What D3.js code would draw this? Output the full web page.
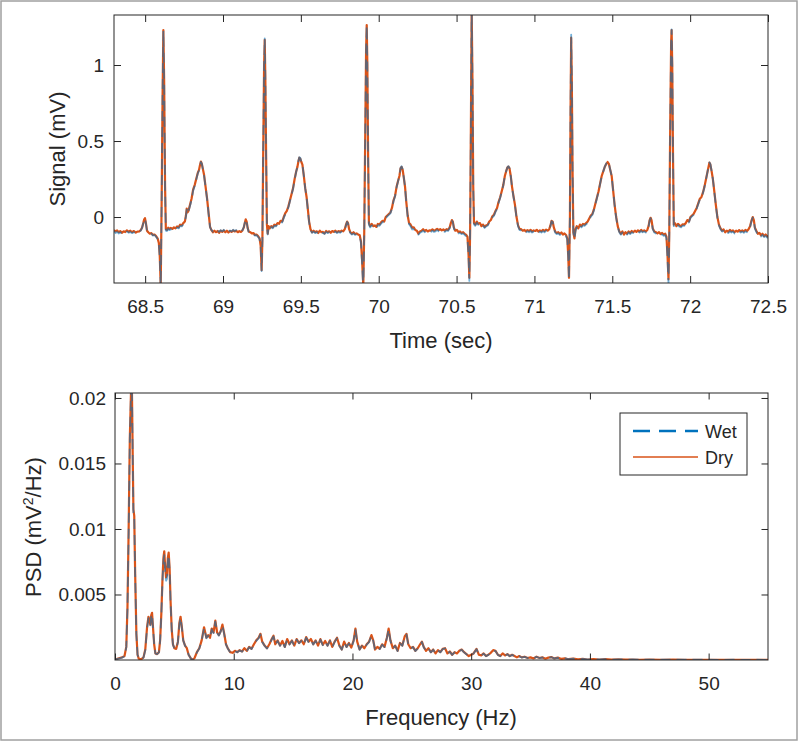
<!DOCTYPE html>
<html><head><meta charset="utf-8">
<script src="https://cdn.jsdelivr.net/npm/d3@7"></script>
<style>
html,body{margin:0;padding:0;background:#fff;}
svg{display:block;font-family:"Liberation Sans",Arial,Helvetica,sans-serif;}
</style></head><body>
<svg id="chart" width="800" height="743"></svg>
<script>
// ---------------- DATA ----------------
const seriesNames = ["Wet", "Dry"];
const timeTicks = [68.5, 69, 69.5, 70, 70.5, 71, 71.5, 72, 72.5];
const signalTicks = [0, 0.5, 1];
const freqTicks = [0, 10, 20, 30, 40, 50];
const psdTicks = [0.005, 0.01, 0.015, 0.02];

const ecgTime = [
 68.300,68.310,68.320,68.330,68.340,68.352,68.362,68.372,68.383,68.395,68.405,68.416,68.428,68.440,68.450,68.462,68.472,68.480,68.488,68.494,68.499,68.505,68.512,68.520,68.530,68.540,68.550,68.560,68.570,68.580,68.588,68.594,68.600,68.606,68.612,68.617,68.622,68.628,68.633,68.640,
 68.648,68.655,68.665,68.675,68.685,68.695,68.705,68.715,68.725,68.735,68.745,68.755,68.762,68.767,68.772,68.778,68.788,68.798,68.808,68.818,68.828,68.838,68.846,68.852,68.858,68.864,68.870,68.878,68.888,68.898,68.908,68.917,68.925,68.935,68.945,68.955,68.965,68.975,68.985,68.995,
 69.005,69.015,69.025,69.035,69.045,69.055,69.065,69.075,69.085,69.095,69.105,69.115,69.125,69.133,69.140,69.146,69.152,69.158,69.165,69.175,69.185,69.195,69.205,69.215,69.225,69.235,69.242,69.248,69.253,69.258,69.264,69.268,69.272,69.277,69.282,69.287,
 69.293,69.300,69.310,69.320,69.330,69.340,69.350,69.360,69.370,69.380,69.390,69.400,69.410,69.420,69.430,69.440,69.450,69.460,69.470,69.478,69.485,69.490,69.496,69.502,69.510,69.518,69.528,69.537,69.545,69.553,69.562,69.572,69.582,69.592,69.602,69.612,69.622,69.632,69.642,69.652,69.662,69.672,69.682,69.692,69.702,69.712,69.722,69.732,69.742,69.752,69.762,69.772,69.782,69.790,69.797,69.803,69.810,69.818,69.828,69.838,69.848,69.858,69.868,69.878,69.886,69.893,69.901,69.907,69.913,69.919,69.923,69.927,69.932,69.937,
 69.945,69.955,69.965,69.975,69.985,69.995,70.005,70.015,70.025,70.035,70.045,70.055,70.065,70.075,70.085,70.095,70.105,70.115,70.125,70.133,70.140,70.147,70.154,70.161,70.169,70.177,70.186,70.195,70.205,70.215,70.225,70.235,70.245,70.255,70.265,70.275,70.285,70.295,70.305,70.315,70.325,70.335,70.345,70.355,70.365,70.375,70.385,70.395,70.405,70.415,70.425,70.435,70.445,70.455,70.463,70.470,70.476,70.483,70.492,70.502,70.512,70.522,70.532,70.542,70.552,70.562,70.570,70.577,70.582,70.587,70.592,70.597,70.602,70.607,
 70.612,70.620,70.630,70.640,70.650,70.660,70.670,70.680,70.690,70.700,70.710,70.720,70.730,70.740,70.750,70.760,70.770,70.780,70.790,70.800,70.810,70.818,70.826,70.833,70.840,70.848,70.856,70.865,70.875,70.885,70.895,70.905,70.915,70.925,70.935,70.945,70.955,70.965,70.975,70.985,70.995,71.005,71.015,71.025,71.035,71.045,71.055,71.065,71.075,71.085,71.095,71.103,71.110,71.117,71.125,71.133,71.143,71.153,71.163,71.173,71.183,71.193,71.203,71.211,71.217,71.222,71.228,71.232,71.236,71.240,71.245,71.250,71.257,
 71.264,71.272,71.282,71.292,71.302,71.312,71.322,71.332,71.342,71.352,71.362,71.372,71.382,71.392,71.402,71.412,71.422,71.432,71.442,71.452,71.462,71.470,71.478,71.487,71.496,71.505,71.515,71.525,71.535,71.545,71.555,71.565,71.575,71.585,71.595,71.605,71.615,71.625,71.635,71.645,71.655,71.665,71.675,71.685,71.695,71.705,71.715,71.725,71.733,71.740,71.746,71.752,71.760,71.770,71.780,71.790,71.800,71.810,71.820,71.830,71.840,71.848,71.855,71.861,71.866,71.872,71.878,71.881,71.885,71.890,71.895,
 71.902,71.912,71.922,71.932,71.942,71.952,71.962,71.972,71.982,71.992,72.002,72.012,72.022,72.032,72.042,72.052,72.062,72.072,72.082,72.092,72.102,72.112,72.118,72.124,72.130,72.138,72.146,72.155,72.165,72.175,72.185,72.195,72.205,72.215,72.225,72.235,72.245,72.255,72.265,72.275,72.285,72.295,72.305,72.315,72.325,72.335,72.345,72.355,72.365,72.375,72.385,72.395,72.402,72.409,72.416,72.425,72.435,72.445,72.455,72.465,72.475,72.485,72.495,72.500
];

const ecgDry = [
 -0.086,-0.095,-0.088,-0.100,-0.093,-0.104,-0.094,-0.099,-0.088,-0.097,-0.090,-0.100,-0.092,-0.102,-0.096,-0.095,-0.085,-0.070,-0.040,-0.015,-0.008,-0.040,-0.090,-0.100,-0.110,-0.106,-0.118,-0.115,-0.125,-0.140,-0.170,-0.260,-0.450,0.100,0.800,1.230,0.900,0.200,-0.080,-0.085,
 -0.070,-0.078,-0.072,-0.078,-0.068,-0.075,-0.062,-0.068,-0.050,-0.055,-0.040,-0.030,0.010,0.055,0.030,0.040,0.080,0.120,0.180,0.210,0.250,0.290,0.310,0.340,0.365,0.350,0.320,0.280,0.200,0.120,0.020,-0.065,-0.085,-0.100,-0.090,-0.100,-0.092,-0.104,-0.090,-0.098,
 -0.088,-0.100,-0.090,-0.102,-0.092,-0.098,-0.088,-0.095,-0.090,-0.100,-0.093,-0.098,-0.088,-0.070,-0.040,-0.015,-0.030,-0.070,-0.095,-0.100,-0.108,-0.105,-0.118,-0.115,-0.125,-0.140,-0.190,-0.350,-0.150,0.400,1.000,1.165,0.900,0.400,-0.050,-0.110,
 -0.060,-0.075,-0.060,-0.068,-0.050,-0.055,-0.040,-0.045,-0.025,-0.030,0.000,0.025,0.040,0.070,0.110,0.150,0.190,0.250,0.300,0.330,0.370,0.390,0.385,0.365,0.345,0.280,0.190,0.130,0.050,-0.030,-0.080,-0.100,-0.090,-0.100,-0.094,-0.105,-0.090,-0.100,-0.098,-0.108,-0.092,-0.100,-0.094,-0.104,-0.092,-0.098,-0.090,-0.100,-0.092,-0.098,-0.090,-0.094,-0.080,-0.050,-0.030,-0.040,-0.080,-0.100,-0.110,-0.100,-0.112,-0.108,-0.115,-0.120,-0.160,-0.280,-0.450,-0.100,0.500,1.100,1.263,1.000,0.400,-0.040,
 -0.060,-0.045,-0.060,-0.055,-0.065,-0.045,-0.050,-0.035,-0.025,-0.030,0.000,0.010,0.020,0.030,0.060,0.110,0.140,0.200,0.240,0.270,0.320,0.330,0.310,0.260,0.200,0.100,0.010,-0.040,-0.050,-0.070,-0.068,-0.085,-0.090,-0.110,-0.095,-0.090,-0.080,-0.092,-0.085,-0.095,-0.088,-0.090,-0.082,-0.090,-0.085,-0.078,-0.086,-0.080,-0.088,-0.082,-0.090,-0.080,-0.085,-0.070,-0.040,-0.020,-0.030,-0.070,-0.090,-0.085,-0.100,-0.095,-0.105,-0.100,-0.110,-0.118,-0.130,-0.250,-0.400,-0.100,0.600,1.360,0.900,0.200,
 -0.040,-0.050,-0.030,-0.045,-0.040,-0.060,-0.050,-0.065,-0.055,-0.050,-0.030,-0.020,0.005,0.015,0.040,0.060,0.100,0.130,0.170,0.210,0.270,0.300,0.325,0.332,0.320,0.270,0.200,0.140,0.080,0.000,-0.055,-0.080,-0.080,-0.090,-0.085,-0.094,-0.086,-0.092,-0.084,-0.095,-0.088,-0.092,-0.084,-0.096,-0.088,-0.094,-0.085,-0.092,-0.083,-0.090,-0.080,-0.055,-0.025,-0.030,-0.070,-0.095,-0.105,-0.100,-0.110,-0.102,-0.115,-0.108,-0.118,-0.140,-0.250,-0.400,0.000,0.700,1.180,0.900,0.300,-0.100,-0.140,
 -0.080,-0.060,-0.075,-0.050,-0.060,-0.045,-0.050,-0.040,-0.030,-0.010,0.010,0.020,0.050,0.090,0.130,0.170,0.220,0.270,0.300,0.330,0.350,0.362,0.350,0.310,0.270,0.180,0.080,0.000,-0.060,-0.095,-0.110,-0.095,-0.115,-0.100,-0.110,-0.095,-0.105,-0.092,-0.100,-0.090,-0.098,-0.088,-0.096,-0.085,-0.094,-0.088,-0.095,-0.085,-0.060,-0.020,-0.005,-0.020,-0.075,-0.095,-0.100,-0.108,-0.100,-0.112,-0.105,-0.115,-0.110,-0.130,-0.260,-0.410,-0.100,0.600,1.150,1.230,1.000,0.400,-0.050,
 -0.040,-0.060,-0.045,-0.055,-0.060,-0.048,-0.050,-0.040,-0.020,-0.030,0.000,0.010,0.020,0.040,0.060,0.090,0.120,0.130,0.160,0.200,0.250,0.300,0.330,0.358,0.345,0.300,0.250,0.170,0.080,0.000,-0.050,-0.075,-0.090,-0.082,-0.100,-0.090,-0.098,-0.085,-0.094,-0.088,-0.100,-0.090,-0.096,-0.086,-0.095,-0.088,-0.096,-0.085,-0.092,-0.080,-0.060,-0.020,0.000,-0.020,-0.070,-0.090,-0.110,-0.105,-0.120,-0.110,-0.125,-0.115,-0.128,-0.120
];

const ecgWet = [
 -0.095,-0.105,-0.098,-0.108,-0.100,-0.112,-0.104,-0.106,-0.096,-0.104,-0.098,-0.106,-0.100,-0.108,-0.102,-0.100,-0.090,-0.072,-0.042,-0.018,-0.010,-0.042,-0.092,-0.104,-0.114,-0.110,-0.122,-0.118,-0.130,-0.145,-0.175,-0.265,-0.460,0.090,0.790,1.225,0.890,0.190,-0.090,-0.092,
 -0.078,-0.086,-0.080,-0.085,-0.076,-0.082,-0.070,-0.075,-0.058,-0.062,-0.048,-0.036,0.004,0.048,0.024,0.034,0.072,0.112,0.172,0.204,0.244,0.286,0.306,0.338,0.362,0.352,0.318,0.276,0.196,0.116,0.016,-0.068,-0.084,-0.096,-0.086,-0.094,-0.088,-0.098,-0.086,-0.094,
 -0.084,-0.096,-0.086,-0.098,-0.088,-0.094,-0.084,-0.092,-0.086,-0.096,-0.090,-0.095,-0.086,-0.068,-0.038,-0.014,-0.030,-0.072,-0.098,-0.104,-0.112,-0.110,-0.122,-0.120,-0.130,-0.146,-0.196,-0.355,-0.160,0.390,1.000,1.175,0.910,0.390,-0.060,-0.115,
 -0.066,-0.080,-0.066,-0.074,-0.058,-0.062,-0.048,-0.052,-0.032,-0.036,-0.006,0.018,0.034,0.064,0.104,0.146,0.186,0.246,0.298,0.330,0.372,0.394,0.390,0.368,0.346,0.280,0.188,0.126,0.046,-0.034,-0.086,-0.104,-0.096,-0.106,-0.100,-0.110,-0.096,-0.106,-0.104,-0.112,-0.098,-0.106,-0.100,-0.108,-0.098,-0.104,-0.096,-0.106,-0.098,-0.104,-0.096,-0.100,-0.086,-0.054,-0.032,-0.044,-0.086,-0.106,-0.116,-0.108,-0.118,-0.114,-0.122,-0.128,-0.170,-0.300,-0.480,-0.120,0.480,1.090,1.260,0.990,0.390,-0.050,
 -0.068,-0.055,-0.068,-0.064,-0.072,-0.054,-0.058,-0.044,-0.032,-0.038,-0.008,0.004,0.014,0.024,0.054,0.104,0.136,0.196,0.238,0.270,0.322,0.334,0.314,0.262,0.198,0.096,0.004,-0.048,-0.062,-0.082,-0.080,-0.096,-0.100,-0.116,-0.104,-0.098,-0.090,-0.100,-0.094,-0.102,-0.096,-0.098,-0.090,-0.098,-0.094,-0.086,-0.094,-0.088,-0.096,-0.090,-0.098,-0.088,-0.092,-0.076,-0.044,-0.024,-0.034,-0.076,-0.098,-0.094,-0.108,-0.104,-0.112,-0.108,-0.118,-0.126,-0.140,-0.260,-0.420,-0.110,0.590,1.380,0.890,0.190,
 -0.048,-0.058,-0.038,-0.052,-0.048,-0.066,-0.058,-0.072,-0.062,-0.056,-0.036,-0.026,-0.002,0.008,0.034,0.054,0.094,0.126,0.166,0.208,0.268,0.300,0.326,0.335,0.322,0.270,0.198,0.136,0.076,-0.006,-0.062,-0.086,-0.088,-0.098,-0.092,-0.102,-0.094,-0.100,-0.092,-0.102,-0.096,-0.100,-0.092,-0.104,-0.096,-0.102,-0.093,-0.100,-0.091,-0.096,-0.086,-0.060,-0.028,-0.034,-0.076,-0.102,-0.112,-0.108,-0.118,-0.110,-0.122,-0.116,-0.126,-0.148,-0.260,-0.410,0.010,0.720,1.200,0.910,0.300,-0.105,-0.145,
 -0.090,-0.070,-0.084,-0.060,-0.068,-0.054,-0.058,-0.048,-0.038,-0.018,0.002,0.014,0.044,0.084,0.126,0.168,0.218,0.268,0.300,0.332,0.354,0.366,0.352,0.312,0.270,0.178,0.076,-0.006,-0.066,-0.100,-0.116,-0.102,-0.120,-0.108,-0.116,-0.102,-0.112,-0.100,-0.106,-0.098,-0.104,-0.096,-0.102,-0.092,-0.100,-0.095,-0.102,-0.092,-0.066,-0.024,-0.008,-0.024,-0.080,-0.102,-0.108,-0.116,-0.110,-0.120,-0.114,-0.124,-0.120,-0.140,-0.280,-0.440,-0.120,0.580,1.140,1.235,1.000,0.390,-0.060,
 -0.050,-0.068,-0.054,-0.064,-0.068,-0.056,-0.058,-0.048,-0.028,-0.036,-0.006,0.004,0.014,0.034,0.054,0.084,0.114,0.126,0.156,0.198,0.248,0.300,0.332,0.360,0.348,0.302,0.250,0.168,0.076,-0.006,-0.056,-0.080,-0.096,-0.090,-0.108,-0.098,-0.106,-0.094,-0.102,-0.096,-0.108,-0.098,-0.104,-0.094,-0.102,-0.096,-0.104,-0.094,-0.100,-0.088,-0.066,-0.024,-0.004,-0.026,-0.076,-0.098,-0.118,-0.112,-0.128,-0.118,-0.132,-0.124,-0.136,-0.130
];

const psdFreq = [
 0.00,0.20,0.40,0.60,0.80,0.95,1.05,1.15,1.25,1.35,
 1.42,1.50,1.55,1.62,1.70,1.80,1.90,2.00,2.20,2.40,
 2.55,2.70,2.82,2.90,2.98,3.05,3.12,3.20,3.30,3.40,
 3.55,3.70,3.80,3.90,4.00,4.08,4.15,4.22,4.30,4.38,
 4.45,4.52,4.60,4.68,4.78,4.88,5.00,5.15,5.30,5.42,
 5.52,5.62,5.75,5.90,6.05,6.20,6.40,6.55,6.70,6.90,
 7.10,7.30,7.50,7.60,7.70,7.85,8.00,8.15,8.30,8.45,
 8.60,8.75,8.90,9.05,9.20,9.35,9.50,9.70,9.90,10.10,
 10.30,10.50,10.70,10.90,11.10,11.30,11.50,11.70,11.90,12.10,
 12.25,12.40,12.60,12.80,13.00,13.20,13.35,13.50,13.70,13.90,
 14.10,14.30,14.50,14.70,14.90,15.10,15.30,15.50,15.70,15.90,
 16.10,16.30,16.50,16.70,16.90,17.10,17.30,17.50,17.70,17.90,
 18.10,18.30,18.50,18.70,18.90,19.10,19.30,19.50,19.70,19.90,
 20.10,20.25,20.40,20.60,20.80,21.00,21.20,21.40,21.60,21.75,
 21.90,22.10,22.30,22.50,22.70,22.90,23.05,23.20,23.40,23.60,
 23.80,24.00,24.20,24.40,24.55,24.70,24.90,25.10,25.30,25.50,
 25.70,25.85,26.00,26.20,26.40,26.60,26.80,27.00,27.20,27.40,
 27.60,27.80,28.00,28.20,28.40,28.60,28.80,29.00,29.20,29.40,
 29.60,29.80,30.00,30.20,30.45,30.65,30.85,31.05,31.25,31.45,
 31.65,31.85,32.05,32.25,32.45,32.65,32.85,33.05,33.25,33.45,
 33.65,33.85,34.05,34.25,34.50,34.75,35.00,35.25,35.50,35.75,
 36.00,36.25,36.50,36.75,37.00,37.30,37.60,37.90,38.20,38.60,
 39.00,39.40,39.80,40.30,40.80,41.30,41.80,42.40,43.00,43.60,
 44.20,45.00,46.00,47.00,48.00,49.00,50.00,51.00,52.00,53.00,
 54.00,55.00
];

const psdDry = [
 0.00002,0.00010,0.00015,0.00020,0.00030,0.00100,0.00400,0.01000,0.01700,0.02050,
 0.02100,0.01500,0.01150,0.01100,0.00650,0.00200,0.00040,0.00010,0.00005,0.00020,
 0.00080,0.00250,0.00330,0.00300,0.00270,0.00340,0.00360,0.00250,0.00120,0.00050,
 0.00045,0.00060,0.00150,0.00350,0.00620,0.00780,0.00830,0.00720,0.00630,0.00650,
 0.00780,0.00820,0.00700,0.00450,0.00230,0.00120,0.00090,0.00085,0.00140,0.00280,
 0.00330,0.00260,0.00150,0.00110,0.00090,0.00040,0.00010,0.00002,0.00015,0.00060,
 0.00090,0.00150,0.00250,0.00210,0.00170,0.00190,0.00170,0.00240,0.00210,0.00300,
 0.00210,0.00190,0.00220,0.00270,0.00200,0.00120,0.00090,0.00060,0.00055,0.00070,
 0.00060,0.00075,0.00065,0.00090,0.00070,0.00100,0.00085,0.00120,0.00150,0.00170,
 0.00200,0.00140,0.00110,0.00090,0.00120,0.00160,0.00185,0.00120,0.00150,0.00110,
 0.00145,0.00100,0.00160,0.00120,0.00150,0.00110,0.00160,0.00130,0.00150,0.00120,
 0.00175,0.00140,0.00160,0.00120,0.00150,0.00110,0.00160,0.00115,0.00145,0.00110,
 0.00150,0.00100,0.00140,0.00170,0.00110,0.00080,0.00140,0.00100,0.00130,0.00095,
 0.00150,0.00240,0.00140,0.00080,0.00110,0.00090,0.00120,0.00140,0.00190,0.00150,
 0.00080,0.00100,0.00085,0.00120,0.00100,0.00170,0.00240,0.00150,0.00090,0.00110,
 0.00070,0.00130,0.00110,0.00180,0.00200,0.00120,0.00090,0.00100,0.00070,0.00090,
 0.00120,0.00140,0.00100,0.00070,0.00090,0.00060,0.00080,0.00050,0.00075,0.00060,
 0.00085,0.00090,0.00050,0.00065,0.00040,0.00060,0.00050,0.00070,0.00080,0.00060,
 0.00045,0.00030,0.00040,0.00050,0.00085,0.00040,0.00035,0.00050,0.00030,0.00040,
 0.00055,0.00075,0.00070,0.00040,0.00030,0.00050,0.00035,0.00045,0.00030,0.00040,
 0.00030,0.00020,0.00030,0.00020,0.00025,0.00015,0.00020,0.00012,0.00025,0.00015,
 0.00020,0.00010,0.00018,0.00022,0.00012,0.00018,0.00008,0.00012,0.00006,0.00010,
 0.00005,0.00008,0.00004,0.00007,0.00004,0.00006,0.00003,0.00005,0.00003,0.00004,
 0.00002,0.00003,0.00002,0.00003,0.00002,0.00002,0.00002,0.00001,0.00002,0.00001,
 0.00002,0.00001
];

const psdWet = [
 0.00002,0.00008,0.00013,0.00018,0.00028,0.00095,0.00390,0.00980,0.01690,0.02040,
 0.02100,0.01480,0.01120,0.01080,0.00640,0.00195,0.00040,0.00010,0.00005,0.00018,
 0.00075,0.00240,0.00320,0.00295,0.00265,0.00330,0.00350,0.00245,0.00118,0.00050,
 0.00045,0.00058,0.00145,0.00340,0.00600,0.00760,0.00800,0.00690,0.00605,0.00620,
 0.00750,0.00800,0.00690,0.00440,0.00225,0.00118,0.00088,0.00083,0.00136,0.00272,
 0.00322,0.00255,0.00148,0.00108,0.00088,0.00040,0.00010,0.00002,0.00014,0.00058,
 0.00088,0.00146,0.00244,0.00206,0.00166,0.00186,0.00166,0.00234,0.00206,0.00292,
 0.00206,0.00186,0.00216,0.00264,0.00196,0.00118,0.00088,0.00058,0.00054,0.00068,
 0.00058,0.00073,0.00063,0.00088,0.00068,0.00097,0.00083,0.00117,0.00146,0.00166,
 0.00195,0.00137,0.00108,0.00088,0.00117,0.00156,0.00180,0.00118,0.00146,0.00108,
 0.00141,0.00098,0.00156,0.00118,0.00146,0.00108,0.00156,0.00127,0.00146,0.00118,
 0.00170,0.00137,0.00156,0.00118,0.00146,0.00108,0.00156,0.00113,0.00141,0.00108,
 0.00146,0.00098,0.00137,0.00166,0.00108,0.00078,0.00137,0.00098,0.00127,0.00093,
 0.00146,0.00234,0.00137,0.00078,0.00108,0.00088,0.00117,0.00137,0.00185,0.00146,
 0.00078,0.00098,0.00083,0.00117,0.00098,0.00166,0.00234,0.00146,0.00088,0.00108,
 0.00068,0.00127,0.00108,0.00176,0.00195,0.00118,0.00088,0.00098,0.00068,0.00088,
 0.00117,0.00137,0.00098,0.00068,0.00088,0.00058,0.00078,0.00049,0.00073,0.00058,
 0.00083,0.00088,0.00049,0.00063,0.00039,0.00058,0.00049,0.00068,0.00078,0.00058,
 0.00044,0.00029,0.00039,0.00049,0.00083,0.00039,0.00034,0.00049,0.00029,0.00039,
 0.00054,0.00073,0.00068,0.00039,0.00029,0.00049,0.00034,0.00044,0.00029,0.00039,
 0.00029,0.00019,0.00029,0.00019,0.00024,0.00015,0.00019,0.00012,0.00024,0.00015,
 0.00019,0.00010,0.00017,0.00021,0.00012,0.00017,0.00008,0.00012,0.00006,0.00010,
 0.00005,0.00008,0.00004,0.00007,0.00004,0.00006,0.00003,0.00005,0.00003,0.00004,
 0.00002,0.00003,0.00002,0.00003,0.00002,0.00002,0.00002,0.00001,0.00002,0.00001,
 0.00002,0.00001
];

// ---------------- STYLE ----------------
const wetColor = "#0072BD";
const dryColor = "#D95319";
const axisColor = "#262626";
const tickFont = 19;
const labelFont = 22;

const svg = d3.select("#chart");
svg.append("rect").attr("x", 0).attr("y", 0).attr("width", 800).attr("height", 743).attr("fill", "#fff");
svg.append("rect").attr("x", 1).attr("y", 1).attr("width", 796).attr("height", 739)
  .attr("fill", "none").attr("stroke", "#a0a0a0").attr("stroke-width", 1.5);

function panel(cfg) {
  const x = d3.scaleLinear().domain(cfg.xDomain).range([cfg.left, cfg.right]);
  const y = d3.scaleLinear().domain(cfg.yDomain).range([cfg.bottom, cfg.top]);
  const g = svg.append("g");
  const clipId = "clip" + cfg.id;
  g.append("clipPath").attr("id", clipId).append("rect")
    .attr("x", cfg.left).attr("y", cfg.top)
    .attr("width", cfg.right - cfg.left).attr("height", cfg.bottom - cfg.top);

  const plot = g.append("g").attr("clip-path", `url(#${clipId})`);
  const line = d3.line().x(d => x(d[0])).y(d => y(d[1]));
  const wetData = d3.zip(cfg.xs, cfg.wet);
  const dryData = d3.zip(cfg.xs, cfg.dry);
  plot.append("path").datum(dryData).attr("d", line)
    .attr("fill", "none").attr("stroke", dryColor).attr("stroke-width", 2.2)
    .attr("stroke-linejoin", "round");
  plot.append("path").datum(wetData).attr("d", line)
    .attr("fill", "none").attr("stroke", wetColor).attr("stroke-width", 1.8)
    .attr("stroke-opacity", 0.55)
    .attr("stroke-dasharray", "10,6").attr("stroke-linejoin", "round");

  const tl = cfg.tickLen;
  const fmt = d => String(d);
  const ax = (axis, tr) => {
    const a = g.append("g").attr("transform", tr).attr("color", axisColor).call(axis);
    a.select(".domain").remove();
    a.selectAll("line").attr("stroke-width", 1);
    a.selectAll("text").attr("font-size", tickFont).attr("fill", axisColor)
      .attr("font-family", '"Liberation Sans", Arial, sans-serif');
    return a;
  };
  ax(d3.axisBottom(x).tickValues(cfg.xTicks).tickFormat(fmt).tickSizeInner(-tl).tickSizeOuter(0).tickPadding(cfg.xPad), `translate(0,${cfg.bottom})`);
  ax(d3.axisTop(x).tickValues(cfg.xTicks).tickFormat("").tickSizeInner(-tl).tickSizeOuter(0), `translate(0,${cfg.top})`);
  ax(d3.axisLeft(y).tickValues(cfg.yTicks).tickFormat(fmt).tickSizeInner(-tl).tickSizeOuter(0).tickPadding(cfg.yPad), `translate(${cfg.left},0)`);
  ax(d3.axisRight(y).tickValues(cfg.yTicks).tickFormat("").tickSizeInner(-tl).tickSizeOuter(0), `translate(${cfg.right},0)`);

  g.append("rect").attr("x", cfg.left).attr("y", cfg.top)
    .attr("width", cfg.right - cfg.left).attr("height", cfg.bottom - cfg.top)
    .attr("fill", "none").attr("stroke", axisColor).attr("stroke-width", 1);
  return {x, y, g};
}

// Top: ECG
const ecgPanel = panel({
  id: "ecg", left: 114, right: 768, top: 15, bottom: 283,
  xDomain: [68.3, 72.5], yDomain: [-0.434, 1.329],
  xTicks: timeTicks, yTicks: signalTicks, tickLen: 7, xPad: 17, yPad: 10,
  xs: ecgTime, wet: ecgWet, dry: ecgDry
});
// Bottom: PSD
const psdPanel = panel({
  id: "psd", left: 115, right: 768, top: 393, bottom: 660,
  xDomain: [0, 55], yDomain: [0, 0.02038],
  xTicks: freqTicks, yTicks: psdTicks, tickLen: 6.5, xPad: 17, yPad: 9,
  xs: psdFreq, wet: psdWet, dry: psdDry
});

// Axis titles
svg.append("text").attr("x", 441).attr("y", 348).attr("text-anchor", "middle")
  .attr("font-size", labelFont).attr("fill", axisColor).text("Time (sec)");
svg.append("text").attr("transform", "translate(65,149) rotate(-90)").attr("text-anchor", "middle")
  .attr("font-size", labelFont).attr("fill", axisColor).text("Signal (mV)");
svg.append("text").attr("x", 441).attr("y", 725).attr("text-anchor", "middle")
  .attr("font-size", labelFont).attr("fill", axisColor).text("Frequency (Hz)");
const psdLab = svg.append("text").attr("transform", "translate(41,527) rotate(-90)").attr("text-anchor", "middle")
  .attr("font-size", labelFont).attr("fill", axisColor);
psdLab.append("tspan").text("PSD (mV");
psdLab.append("tspan").attr("font-size", 14).attr("dy", -8).text("2");
psdLab.append("tspan").attr("dy", 8).text("/Hz)");

// Legend
const lg = svg.append("g");
lg.append("rect").attr("x", 620).attr("y", 413).attr("width", 127).attr("height", 62)
  .attr("fill", "#fff").attr("stroke", axisColor).attr("stroke-width", 1);
const legendRows = [
  {name: seriesNames[0], color: wetColor, dash: "17,9", w: 2.5, cy: 431},
  {name: seriesNames[1], color: dryColor, dash: null, w: 1.6, cy: 457}
];
legendRows.forEach(r => {
  lg.append("line").attr("x1", 633).attr("x2", 698).attr("y1", r.cy).attr("y2", r.cy)
    .attr("stroke", r.color).attr("stroke-width", r.w).attr("stroke-dasharray", r.dash);
  lg.append("text").attr("x", 705).attr("y", r.cy + 6.5).attr("font-size", 18)
    .attr("fill", axisColor).text(r.name);
});
</script>
</body></html>
